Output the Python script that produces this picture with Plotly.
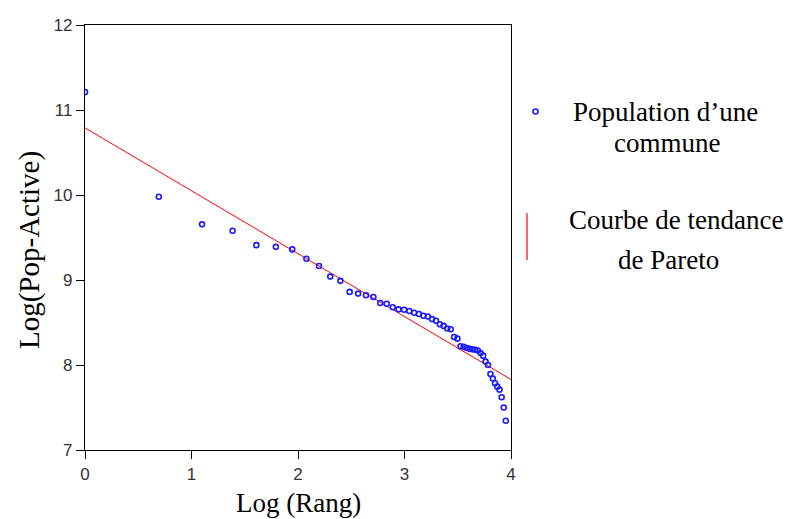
import plotly.graph_objects as go

# Data
log_rang = [0.000, 0.693, 1.099, 1.386, 1.609, 1.792, 1.946, 2.079, 2.197, 2.303,
            2.398, 2.485, 2.565, 2.639, 2.708, 2.773, 2.833, 2.890, 2.944, 2.996,
            3.045, 3.091, 3.135, 3.178, 3.219, 3.258, 3.296, 3.332, 3.367, 3.401,
            3.434, 3.466, 3.497, 3.526, 3.555, 3.584, 3.611, 3.638, 3.664, 3.689,
            3.714, 3.738, 3.761, 3.784, 3.807, 3.829, 3.850, 3.871, 3.892, 3.912,
            3.932, 3.951]
log_pop = [11.21, 9.98, 9.655, 9.58, 9.41, 9.39, 9.36, 9.25, 9.165, 9.04,
           8.99, 8.86, 8.84, 8.82, 8.80, 8.73, 8.72, 8.68, 8.655, 8.65,
           8.635, 8.615, 8.60, 8.58, 8.57, 8.54, 8.52, 8.48, 8.46, 8.43,
           8.42, 8.33, 8.31, 8.22, 8.215, 8.20, 8.19, 8.185, 8.18, 8.17,
           8.14, 8.11, 8.04, 8.00, 7.895, 7.84, 7.785, 7.745, 7.71, 7.62,
           7.50, 7.345]
trend_intercept = 10.79
trend_slope = -0.74
trend_x = [0, 4]
trend_y = [trend_intercept + trend_slope * v for v in trend_x]

x_ticks = [0, 1, 2, 3, 4]
y_ticks = [7, 8, 9, 10, 11, 12]

L, R, T, B = 85, 511, 25, 450
W, H = 792, 519


def px(x):
    return (x - L) / (R - L)


def py(y):
    return (B - y) / (B - T)


fig = go.Figure()
fig.add_trace(go.Scatter(
    x=trend_x, y=trend_y, mode="lines",
    line=dict(color="#ff0000", width=1), showlegend=False, hoverinfo="skip"))
fig.add_trace(go.Scatter(
    x=log_rang, y=log_pop, mode="markers",
    marker=dict(symbol="circle-open", size=5, color="#1a1aff",
                line=dict(width=1.6, color="#1a1aff")),
    showlegend=False))

serif = "Liberation Serif, Times New Roman, serif"
sans = "Liberation Sans, Arial, sans-serif"

axis_common = dict(
    showline=True, linecolor="black", linewidth=1.3, mirror=True,
    ticks="outside", ticklen=8, tickwidth=1.3, tickcolor="black",
    showgrid=False, zeroline=False,
    tickfont=dict(family=sans, size=17, color="#333333"),
)

fig.update_xaxes(range=[0, 4], tickvals=x_ticks, **axis_common)
fig.update_yaxes(range=[7, 12], tickvals=y_ticks, **axis_common)

annotations = [
    dict(text="Log (Rang)", x=px(298), y=py(503), font=dict(family=serif, size=27, color="black")),
    dict(text="Log(Pop-Active)", x=px(29), y=py(250), textangle=-90, font=dict(family=serif, size=29, color="black")),
    dict(text="Population d’une", x=px(665), y=py(112), font=dict(family=serif, size=27, color="black")),
    dict(text="commune", x=px(667), y=py(143), font=dict(family=serif, size=27, color="black")),
    dict(text="Courbe de tendance", x=px(676), y=py(220), font=dict(family=serif, size=27, color="black")),
    dict(text="de Pareto", x=px(668), y=py(260), font=dict(family=serif, size=27, color="black")),
]
for a in annotations:
    a.update(xref="paper", yref="paper", showarrow=False, xanchor="center", yanchor="middle")

shapes = [
    dict(type="circle", xref="paper", yref="paper",
         x0=px(533), x1=px(538), y0=py(109), y1=py(114),
         line=dict(color="#1a1aff", width=1.6)),
    dict(type="line", xref="paper", yref="paper",
         x0=px(527), x1=px(527), y0=py(213), y1=py(260),
         line=dict(color="#ff0000", width=1.2)),
]

fig.update_layout(
    width=W, height=H,
    margin=dict(l=L, r=W - R, t=T, b=H - B, pad=0),
    paper_bgcolor="white", plot_bgcolor="white",
    annotations=annotations, shapes=shapes,
    showlegend=False,
)

fig.write_html(
    "out.html",
    config={"displayModeBar": False},
    post_script="document.body.style.margin='0';document.body.style.overflow='hidden';",
)
